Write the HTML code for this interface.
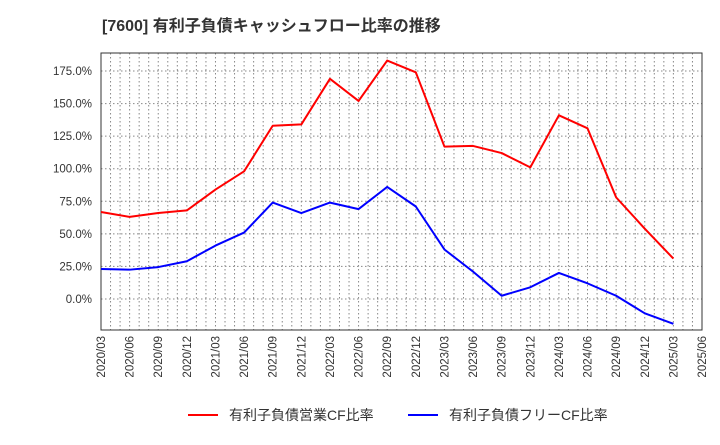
<!DOCTYPE html><html><head><meta charset="utf-8"><style>body{margin:0;background:#fff}svg{font-family:"Liberation Sans","Noto Sans CJK JP",sans-serif}</style></head><body>
<svg id="c" width="720" height="440">
<text x="102" y="31" font-size="16" font-weight="bold" fill="#333">[7600]  有利子負債キャッシュフロー比率の推移</text>
<g id="grid"></g><g id="axes"></g><g id="series"></g>
<g>
<line x1="188" y1="415" x2="218" y2="415" stroke="#f00" stroke-width="2"/><text x="229" y="420" font-size="14" fill="#333">有利子負債営業CF比率</text>
<line x1="408" y1="415" x2="438" y2="415" stroke="#00f" stroke-width="2"/><text x="449" y="420" font-size="14" fill="#333">有利子負債フリーCF比率</text>
</g>
</svg>
<script>
const xLabels=["2020/03","2020/06","2020/09","2020/12","2021/03","2021/06","2021/09","2021/12","2022/03","2022/06","2022/09","2022/12","2023/03","2023/06","2023/09","2023/12","2024/03","2024/06","2024/09","2024/12","2025/03","2025/06"];
const opCF=[66.8,63,66,68,84,98,133,134,169,152,183,174,117,117.5,112,101,141,131,78,54,31];
const freeCF=[23,22.5,24.5,29,41,51,74,66,74,69,86,71,38,21,2.5,9,20,12,2.5,-11,-19];
const yTicks=[0,25,50,75,100,125,150,175];
const L=101,R=702,T=53,B=330;
const xs=i=>L+i*(R-L)/21;
const ys=v=>299-v*228/175;
const NS="http://www.w3.org/2000/svg";
function mk(p,t,a){const e=document.createElementNS(NS,t);for(const k in a)e.setAttribute(k,a[k]);p.appendChild(e);return e;}
const g=document.getElementById('grid'),ax=document.getElementById('axes'),s=document.getElementById('series');
for(let m=1;m<63;m++){const x=L+m*(R-L)/63;const e=mk(g,'line',{x1:x,x2:x,y1:T,y2:B,stroke:'#888','stroke-dasharray':'1.5,2.5','stroke-width':1});

}
yTicks.forEach(v=>{const y=ys(v);const e=mk(g,'line',{x1:L,x2:R,y1:y,y2:y,stroke:'#888','stroke-dasharray':'1.5,2.5'});


const t=mk(ax,'text',{x:L-9,y:y+4,'text-anchor':'end','font-size':11.5,fill:'#333'});t.textContent=v.toFixed(1)+'%';

});
const fr=mk(ax,'rect',{x:L,y:T,width:R-L,height:B-T,fill:'none',stroke:'#333'});


xLabels.forEach((l,i)=>{const x=xs(i);const t=mk(ax,'text',{transform:`translate(${x+4},${B+6}) rotate(-90)`,'text-anchor':'end','font-size':11.5,fill:'#333'});t.textContent=l;

});
[[opCF,'#f00','op-cf-line'],[freeCF,'#00f','free-cf-line']].forEach(([d,c,n])=>{const p=mk(s,'polyline',{points:d.map((v,i)=>xs(i)+','+ys(v)).join(' '),fill:'none',stroke:c,'stroke-width':2,'stroke-linejoin':'round'});

});
</script></body></html>
